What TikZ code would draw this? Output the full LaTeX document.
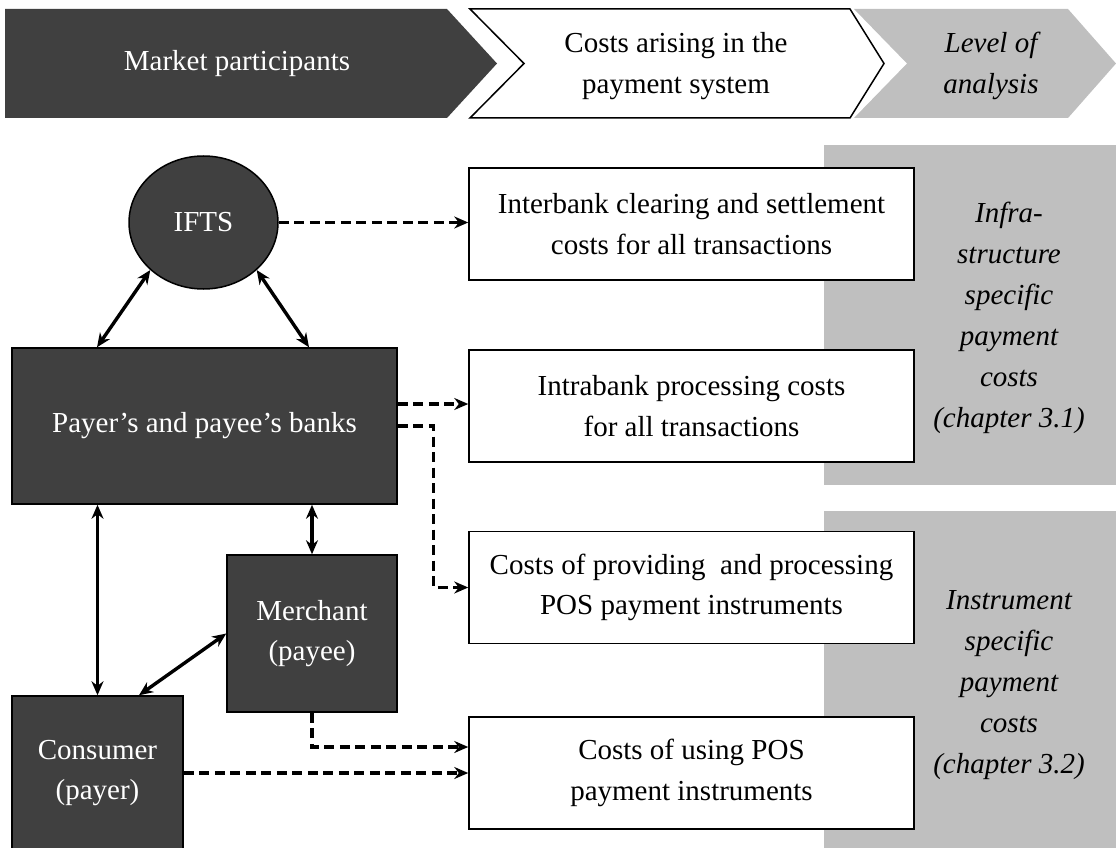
\documentclass[tikz,border=0pt]{standalone}
\usepackage{fontspec}
\setmainfont{Liberation Serif}
\usetikzlibrary{arrows.meta,shapes.geometric}
\definecolor{darkfill}{HTML}{404040}
\definecolor{panelgray}{HTML}{BFBFBF}

\begin{document}
\begin{tikzpicture}[x=1pt,y=-1pt,
  font=\fontsize{29}{40.5}\selectfont,
  dark/.style={draw=black, line width=1.5pt, fill=darkfill, text=white, align=center, inner sep=0pt},
  costbox/.style={draw=black, line width=1.5pt, fill=white, align=center,
    minimum width=445pt, minimum height=112pt, inner sep=0pt},
  link/.style={line width=3.4pt, {Stealth[length=14pt,width=12pt]}-{Stealth[length=14pt,width=12pt]}},
  flow/.style={line width=3.4pt, dash pattern=on 10pt off 5.5pt, -{Stealth[length=14pt,width=12pt]}},
  paneltext/.style={align=center, font=\fontsize{29}{41}\selectfont\itshape},
]
\useasboundingbox (0,0) rectangle (1116,848);

% header chevrons
\fill[darkfill] (5,9) -- (447,9) -- (497,63.5) -- (447,118) -- (5,118) -- cycle;
\draw[line width=1.5pt, fill=white] (470,9) -- (850,9) -- (884,63.5) -- (850,118) -- (470,118) -- (524,63.5) -- cycle;
\fill[panelgray] (854,9) -- (1068,9) -- (1116,63.5) -- (1068,118) -- (854,118) -- (907,63.5) -- cycle;
\node[text=white] (mp) at (237,64) {Market participants};
\node[align=center] (cs) at (676,66) {Costs arising in the\\payment system};
\node[align=center, font=\fontsize{29}{40.5}\selectfont\itshape] (la) at (991,66) {Level of\\analysis};

% level-of-analysis panels
\fill[panelgray] (824,145) rectangle (1116,485);
\fill[panelgray] (824,511) rectangle (1116,848);
\node[paneltext] (infra) at (1009,318) {Infra-\\structure\\specific\\payment\\costs\\(chapter 3.1)};
\node[paneltext] (instr) at (1009,685) {Instrument\\specific\\payment\\costs\\(chapter 3.2)};

% cost categories
\node[costbox] (interbank) at (691.5,224) {Interbank clearing and settlement\\costs for all transactions};
\node[costbox] (intrabank) at (691.5,406) {Intrabank processing costs\\for all transactions};
\node[costbox] (providing) at (691.5,587.5) {Costs of providing\ \ and processing\\POS payment instruments};
\node[costbox] (using) at (691.5,773) {Costs of using POS\\payment instruments};

% market participants
\node[dark, ellipse, minimum width=149pt, minimum height=133pt] (ifts) at (203.5,222.5) {IFTS};
\node[dark, minimum width=385pt, minimum height=156pt] (banks) at (204.5,426) {Payer’s and payee’s banks};
\node[dark, minimum width=170pt, minimum height=157pt] (merchant) at (312,633.5) {Merchant\\(payee)};
\node[dark, minimum width=171pt, minimum height=154pt] (consumer) at (97.5,773) {Consumer\\(payer)};

% relations between participants
\draw[link] (ifts.south west) -- ([xshift=-107.5pt]banks.north);
\draw[link] (ifts.south east) -- ([xshift=104.5pt]banks.north);
\draw[link] (banks.south -| consumer.north) -- (consumer.north);
\draw[link] (banks.south -| merchant.north) -- (merchant.north);
\draw[link] ([xshift=41.5pt]consumer.north) -- (merchant.west);

% cost flows
\draw[flow] (ifts.east) -- (ifts.east -| interbank.west);
\draw[flow] ([yshift=22pt]banks.east) -- ([yshift=22pt]banks.east -| intrabank.west);
\draw[flow] (banks.east) -- ([xshift=36pt]banks.east) |- (providing.west);
\draw[flow] (merchant.south) |- ([yshift=26pt]using.west);
\draw[flow] (consumer.east) -- (using.west);
\end{tikzpicture}
\end{document}
